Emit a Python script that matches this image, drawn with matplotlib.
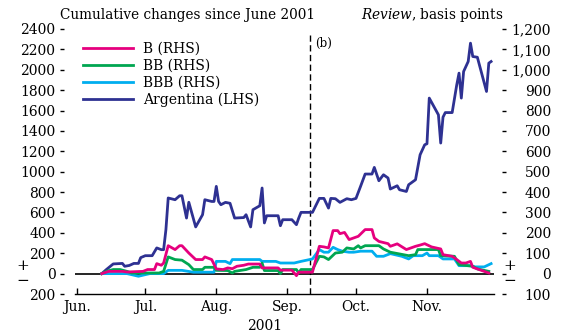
import matplotlib
matplotlib.use("Agg")
import matplotlib.pyplot as plt
import matplotlib.dates as mdates
from matplotlib.ticker import FixedLocator, FuncFormatter
from matplotlib.lines import Line2D
import pandas as pd

plt.rcParams["font.family"] = ["DejaVu Serif"]
plt.rcParams["mathtext.fontset"] = "dejavuserif"
plt.rcParams["font.size"] = 10

# Argentina spread, basis points (left-hand scale)
arg_dates = ["2001-06-12", "2001-06-14", "2001-06-17", "2001-06-21", "2001-06-22",
             "2001-06-24", "2001-06-26", "2001-06-28", "2001-06-29", "2001-07-01",
             "2001-07-04", "2001-07-06", "2001-07-08", "2001-07-09", "2001-07-10",
             "2001-07-11", "2001-07-14", "2001-07-16", "2001-07-17", "2001-07-19",
             "2001-07-20", "2001-07-23", "2001-07-26", "2001-07-27", "2001-07-30",
             "2001-07-31", "2001-08-01", "2001-08-02", "2001-08-03", "2001-08-05",
             "2001-08-07", "2001-08-09", "2001-08-13", "2001-08-14", "2001-08-16",
             "2001-08-17", "2001-08-20", "2001-08-21", "2001-08-22", "2001-08-23",
             "2001-08-28", "2001-08-29", "2001-08-30", "2001-09-03", "2001-09-05",
             "2001-09-06", "2001-09-07", "2001-09-12", "2001-09-15", "2001-09-17",
             "2001-09-19", "2001-09-20", "2001-09-22", "2001-09-24", "2001-09-27",
             "2001-09-29", "2001-10-01", "2001-10-03", "2001-10-05", "2001-10-08",
             "2001-10-09", "2001-10-11", "2001-10-13", "2001-10-15", "2001-10-16",
             "2001-10-19", "2001-10-20", "2001-10-23", "2001-10-24", "2001-10-27",
             "2001-10-29", "2001-10-31", "2001-11-01", "2001-11-02", "2001-11-06",
             "2001-11-07", "2001-11-08", "2001-11-09", "2001-11-12", "2001-11-14",
             "2001-11-15", "2001-11-16", "2001-11-17", "2001-11-19", "2001-11-20",
             "2001-11-21", "2001-11-23", "2001-11-27", "2001-11-28", "2001-11-29"]
arg_bp = [0, 40, 95, 100, 72,
          80, 100, 100, 157, 176,
          176, 252, 235, 235, 431,
          742, 725, 764, 764, 545,
          700, 458, 578, 725, 708,
          708, 856, 708, 676, 699,
          690, 545, 550, 578, 458,
          627, 666, 840, 497, 568,
          568, 470, 529, 529, 480,
          545, 601, 601, 738, 738,
          643, 738, 735, 699, 735,
          725, 738, 856, 977, 977,
          1042, 911, 970, 938, 830,
          862, 823, 806, 872, 921,
          1166, 1264, 1274, 1722, 1558,
          1281, 1535, 1580, 1580, 1852,
          1967, 1722, 1983, 2081, 2261,
          2130, 2123, 1787, 2065, 2081]

# B-rated spread, basis points (right-hand scale)
b_dates = ["2001-06-12", "2001-06-15", "2001-06-21", "2001-06-23", "2001-06-30",
           "2001-07-02", "2001-07-05", "2001-07-06", "2001-07-08", "2001-07-09",
           "2001-07-11", "2001-07-14", "2001-07-16", "2001-07-17", "2001-07-20",
           "2001-07-23", "2001-07-26", "2001-07-27", "2001-07-30", "2001-08-01",
           "2001-08-04", "2001-08-06", "2001-08-08", "2001-08-10", "2001-08-13",
           "2001-08-15", "2001-08-20", "2001-08-21", "2001-08-28", "2001-08-29",
           "2001-09-03", "2001-09-05", "2001-09-06", "2001-09-12", "2001-09-15",
           "2001-09-17", "2001-09-19", "2001-09-21", "2001-09-23", "2001-09-24",
           "2001-09-26", "2001-09-28", "2001-10-02", "2001-10-05", "2001-10-08",
           "2001-10-09", "2001-10-11", "2001-10-15", "2001-10-16", "2001-10-19",
           "2001-10-23", "2001-10-27", "2001-10-29", "2001-10-31", "2001-11-03",
           "2001-11-07", "2001-11-08", "2001-11-12", "2001-11-14", "2001-11-16",
           "2001-11-18", "2001-11-20", "2001-11-21", "2001-11-23", "2001-11-26",
           "2001-11-28"]
b_bp = [0, 11, 11, 8, 11,
        20, 20, 49, 41, 52,
        137, 118, 137, 137, 101,
        69, 69, 82, 69, 23,
        20, 28, 24, 36, 41,
        47, 47, 28, 28, 17,
        17, -10, 7, 7, 134,
        131, 126, 211, 211, 196,
        202, 167, 183, 216, 216,
        175, 158, 147, 134, 146,
        118, 134, 140, 147, 131,
        121, 93, 85, 69, 52,
        52, 60, 31, 23, 11,
        3]

# BB-rated spread, basis points (right-hand scale)
bb_dates = ["2001-06-12", "2001-06-14", "2001-06-17", "2001-06-20", "2001-06-23",
            "2001-06-25", "2001-07-07", "2001-07-09", "2001-07-11", "2001-07-14",
            "2001-07-17", "2001-07-20", "2001-07-22", "2001-07-26", "2001-07-27",
            "2001-07-31", "2001-08-01", "2001-08-06", "2001-08-08", "2001-08-09",
            "2001-08-14", "2001-08-17", "2001-08-20", "2001-08-21", "2001-08-22",
            "2001-08-28", "2001-08-29", "2001-08-30", "2001-09-05", "2001-09-06",
            "2001-09-07", "2001-09-12", "2001-09-15", "2001-09-17", "2001-09-19",
            "2001-09-22", "2001-09-25", "2001-09-27", "2001-09-30", "2001-10-02",
            "2001-10-03", "2001-10-05", "2001-10-11", "2001-10-13", "2001-10-16",
            "2001-10-24", "2001-10-27", "2001-10-28", "2001-11-06", "2001-11-07",
            "2001-11-13", "2001-11-15", "2001-11-21", "2001-11-23", "2001-11-28"]
bb_bp = [0, 11, 20, 20, 11,
         3, 3, 11, 82, 69,
         66, 44, 20, 20, 31,
         31, 16, 15, 3, 11,
         20, 31, 31, 52, 15,
         15, 0, 20, 20, 3,
         20, 20, 85, 82, 69,
         101, 105, 126, 121, 137,
         126, 137, 137, 121, 105,
         88, 93, 118, 118, 88,
         85, 44, 36, 23, 11]

# BBB-rated spread, basis points (right-hand scale)
bbb_dates = ["2001-06-12", "2001-06-23", "2001-06-25", "2001-06-28", "2001-07-01",
             "2001-07-03", "2001-07-09", "2001-07-11", "2001-07-17", "2001-07-22",
             "2001-07-31", "2001-08-01", "2001-08-05", "2001-08-07", "2001-08-08",
             "2001-08-20", "2001-08-21", "2001-08-27", "2001-08-29", "2001-09-04",
             "2001-09-07", "2001-09-12", "2001-09-15", "2001-09-17", "2001-09-19",
             "2001-09-21", "2001-09-23", "2001-09-25", "2001-09-28", "2001-09-30",
             "2001-10-03", "2001-10-08", "2001-10-10", "2001-10-13", "2001-10-16",
             "2001-10-21", "2001-10-24", "2001-10-26", "2001-10-30", "2001-11-01",
             "2001-11-02", "2001-11-06", "2001-11-08", "2001-11-13", "2001-11-15",
             "2001-11-20", "2001-11-22", "2001-11-26", "2001-11-29"]
bbb_bp = [0, 0, -5, -13, -5,
          0, 0, 16, 16, 7,
          7, 60, 60, 49, 69,
          69, 60, 60, 52, 52,
          60, 72, 118, 105, 105,
          129, 118, 110, 105, 105,
          110, 110, 85, 85, 98,
          85, 72, 88, 88, 101,
          88, 88, 72, 72, 39,
          39, 33, 33, 49]

month_ticks = ["2001-06-01", "2001-07-01", "2001-08-01", "2001-09-01",
               "2001-10-01", "2001-11-01"]
event_date = "2001-09-11"

left_ticks = list(range(-200, 2401, 200))
right_ticks = list(range(-100, 1201, 100))

c_b = "#E6007E"
c_bb = "#00A651"
c_bbb = "#00AEEF"
c_arg = "#2E3192"

W, H = 563, 334
fig = plt.figure(figsize=(W / 100, H / 100), dpi=100)


def fx(px):
    return px / W


def fy(py):
    return 1 - py / H


ax = fig.add_axes([fx(75), fy(294), fx(494) - fx(75), fy(29) - fy(294)])
ax2 = ax.twinx()

to_dt = pd.to_datetime
lw = 2.0
ax.plot(to_dt(arg_dates), arg_bp, color=c_arg, lw=lw, zorder=3)
ax2.plot(to_dt(bbb_dates), bbb_bp, color=c_bbb, lw=lw, zorder=3)
ax2.plot(to_dt(bb_dates), bb_bp, color=c_bb, lw=lw, zorder=3)
ax2.plot(to_dt(b_dates), b_bp, color=c_b, lw=lw, zorder=3)

ax.set_ylim(-200, 2400)
ax2.set_ylim(-100, 1200)
x0 = mdates.date2num(pd.Timestamp("2001-06-01")) - 0.7
ax.set_xlim(x0, x0 + 419 / 2.29)

ax.axhline(0, color="black", lw=1.2, zorder=2)
ev = to_dt(event_date)
ax.vlines(ev, -200, 2340, colors="black", lw=1.0, linestyles=(0, (4.5, 2.5)), zorder=2)

# x axis
ax.xaxis.set_major_locator(FixedLocator(mdates.date2num(to_dt(month_ticks))))
ax.xaxis.set_major_formatter(mdates.DateFormatter("%b."))
ax.tick_params(axis="x", direction="in", length=4, width=1, pad=4, labelsize=10)
for s in ("top", "left", "right"):
    ax.spines[s].set_visible(False)
for s in ("top", "left", "right", "bottom"):
    ax2.spines[s].set_visible(False)
ax.spines["bottom"].set_linewidth(1.0)

# left axis
ax.spines["left"].set_position(("outward", 8))
ax.yaxis.set_major_locator(FixedLocator(left_ticks))
ax.yaxis.set_major_formatter(FuncFormatter(lambda v, p: f"{abs(v):.0f}"))
ax.tick_params(axis="y", direction="out", length=3, width=1, pad=3, labelsize=10)

# right axis
ax2.spines["right"].set_position(("outward", 6))
ax2.yaxis.set_major_locator(FixedLocator(right_ticks))
ax2.yaxis.set_major_formatter(FuncFormatter(lambda v, p: f"{abs(v):,.0f}"))
ax2.tick_params(axis="y", direction="out", length=3, width=1, pad=32, labelsize=10)
for lab in ax2.get_yticklabels():
    lab.set_horizontalalignment("right")

handles = [Line2D([], [], color=c_b, lw=lw), Line2D([], [], color=c_bb, lw=lw),
           Line2D([], [], color=c_bbb, lw=lw), Line2D([], [], color=c_arg, lw=lw)]
labels = ["B (RHS)", "BB (RHS)", "BBB (RHS)", "Argentina (LHS)"]
ax2.legend(handles, labels, loc="upper left", bbox_to_anchor=(fx(83), fy(42)),
           bbox_transform=fig.transFigure, frameon=False, borderpad=0,
           borderaxespad=0, handlelength=3.6, handletextpad=0.7,
           labelspacing=0.2, fontsize=10)

fig.text(fx(60), fy(15), "Cumulative changes since June 2001", ha="left", va="center", fontsize=9.8)
fig.text(fx(503), fy(15), r"$\mathit{Review}$, basis points", ha="right", va="center", fontsize=9.8)
fig.text(fx(265), fy(326), "2001", ha="center", va="center", fontsize=10)
fig.text(fx(324), fy(43), "(b)", ha="center", va="center", fontsize=8.5)
for x in (23, 510):
    fig.text(fx(x), fy(266), "+", ha="center", va="center", fontsize=11)
    fig.text(fx(x), fy(281), "\u2212", ha="center", va="center", fontsize=11)

fig.savefig("out.png", dpi=100)
